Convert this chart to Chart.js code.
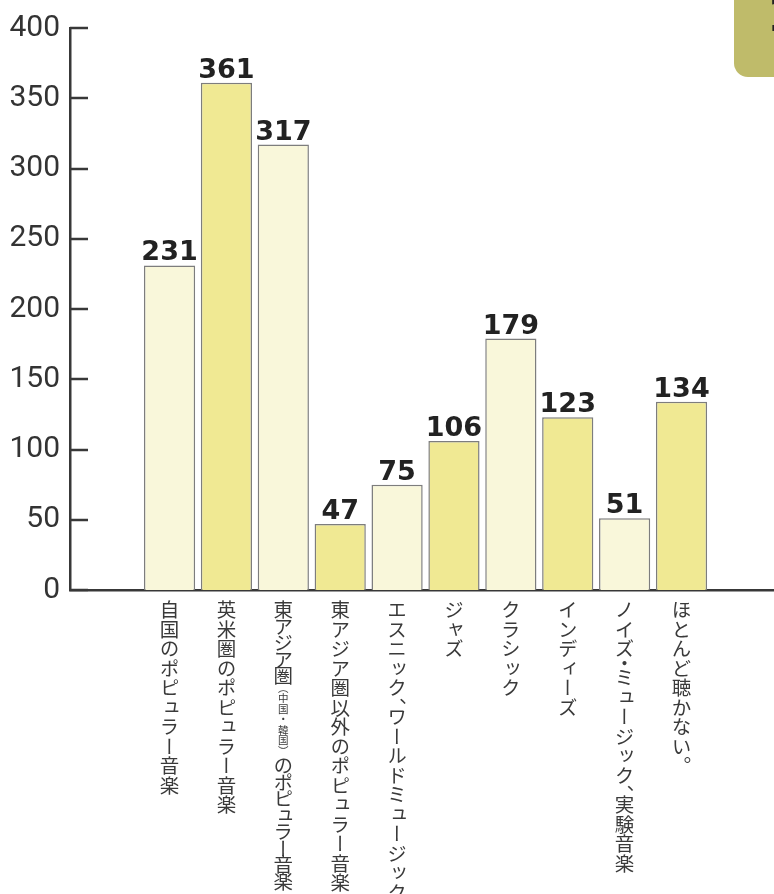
<!DOCTYPE html>
<html>
<head>
<meta charset="utf-8">
<script src="https://cdn.jsdelivr.net/npm/chart.js@4.4.1/dist/chart.umd.min.js"></script>
<style>
  html, body { margin: 0; padding: 0; background: #fff; }
  #wrap { position: relative; width: 774px; height: 894px; overflow: hidden; }
  #chart { position: absolute; left: 0; top: 0; }
  .cat {
    position: absolute;
    writing-mode: vertical-rl;
    font-family: "Noto Sans CJK JP", sans-serif;
    font-size: 19.5px;
    line-height: 1;
    color: #3a3a3a;
    white-space: nowrap;
  }
  .cat small { font-size: 10.5px; letter-spacing: 0; }
  .cat .pn { font-feature-settings: "vpal"; }
</style>
</head>
<body>
<div id="wrap">
  <canvas id="chart" width="774" height="894"></canvas>
</div>
<script>
// categories (part in brackets is printed smaller)
var categories = [
    "自国のポピュラー音楽",
    "英米圏のポピュラー音楽",
    "東アジア圏[（中国・韓国）]のポピュラー音楽",
    "東アジア圏以外のポピュラー音楽",
    "エスニック、ワールドミュージック",
    "ジャズ",
    "クラシック",
    "インディーズ",
    "ノイズ・ミュージック、実験音楽",
    "ほとんど聴かない。"
];
var counts = [231, 361, 317, 47, 75, 106, 179, 123, 51, 134];
var yTicks = [0, 50, 100, 150, 200, 250, 300, 350, 400];

var lightBar = '#f9f7da';
var yellowBar = '#f0e993';
var axisColor = '#383838';

// little olive tab in the top right corner
var cornerTab = {
    id: 'cornerTab',
    beforeDraw: function (chart) {
        var ctx = chart.ctx;
        ctx.save();
        ctx.fillStyle = '#bfbb6a';
        ctx.beginPath();
        ctx.roundRect(734, -20, 70, 97, 14);
        ctx.fill();
        ctx.fillStyle = '#222';
        ctx.font = 'bold 46px "DejaVu Sans"';
        ctx.textBaseline = 'top';
        ctx.textAlign = 'left';
        ctx.fillText('1', 767, -4);
        ctx.restore();
    }
};

// tick marks pointing into the plot + value labels on the bars
var extras = {
    id: 'extras',
    afterDraw: function (chart) {
        var ctx = chart.ctx;
        var y = chart.scales.y;
        var left = chart.chartArea.left;
        ctx.save();
        ctx.strokeStyle = axisColor;
        ctx.lineWidth = 2.5;
        y.ticks.forEach(function (t) {
            var py = Math.round(y.getPixelForValue(t.value));
            ctx.beginPath();
            ctx.moveTo(left, py);
            ctx.lineTo(left + 18, py);
            ctx.stroke();
        });

        ctx.fillStyle = '#222';
        ctx.font = 'bold 27px "DejaVu Sans"';
        ctx.textAlign = 'center';
        ctx.textBaseline = 'alphabetic';
        chart.getDatasetMeta(0).data.forEach(function (bar, i) {
            ctx.fillText(String(counts[i]), bar.x, bar.y - 5);
        });
        ctx.restore();
    }
};

// wrap the punctuation so it can use tighter vertical metrics
function addText(el, text) {
    text.split(/([、。・])/).forEach(function (part) {
        if (!part) return;
        if (/^[、。・]$/.test(part)) {
            var p = document.createElement('span');
            p.className = 'pn';
            p.textContent = part;
            el.appendChild(p);
        } else {
            el.appendChild(document.createTextNode(part));
        }
    });
}

// vertical japanese labels, placed from the x scale
var vLabels = {
    id: 'vLabels',
    afterRender: function (chart) {
        var wrap = document.getElementById('wrap');
        wrap.querySelectorAll('.cat').forEach(function (el) { el.remove(); });
        var x = chart.scales.x;
        categories.forEach(function (name, i) {
            var el = document.createElement('div');
            el.className = 'cat';
            var m = name.match(/^(.*)\[(.*)\](.*)$/);
            if (m) {
                // this one is squeezed in the original
                var a = document.createElement('span');
                a.style.letterSpacing = '-3px';
                a.textContent = m[1];
                var s = document.createElement('small');
                s.textContent = m[2];
                var b = document.createElement('span');
                b.style.letterSpacing = '-3px';
                b.textContent = m[3];
                el.appendChild(a);
                el.appendChild(s);
                el.appendChild(b);
            } else {
                addText(el, name);
            }
            wrap.appendChild(el);
            el.style.left = (x.getPixelForValue(i) - el.offsetWidth / 2) + 'px';
            el.style.top = (chart.chartArea.bottom + 10) + 'px';
        });
    }
};

var ctx = document.getElementById('chart').getContext('2d');
var chart = new Chart(ctx, {
    type: 'bar',
    data: {
        datasets: [{
            data: counts.map(function (v, i) { return { x: i, y: v }; }),
            backgroundColor: function (c) { return c.dataIndex % 2 ? yellowBar : lightBar; },
            borderColor: '#7d7d7d',
            borderWidth: 1.5,
            barPercentage: 0.9,
            categoryPercentage: 1.0
        }]
    },
    options: {
        responsive: false,
        animation: false,
        layout: { padding: { top: 24, right: 0, left: 0, bottom: 0 } },
        plugins: {
            legend: { display: false },
            tooltip: { enabled: false }
        },
        scales: {
            x: {
                type: 'linear',
                offset: false,
                min: -1.75,
                max: 10.626,
                grid: { display: false, offset: false },
                border: { display: true, color: axisColor, width: 2.5 },
                ticks: { display: false },
                afterFit: function (s) { s.height = 304; }
            },
            y: {
                min: 0,
                max: 400,
                afterBuildTicks: function (s) {
                    s.ticks = yTicks.map(function (v) { return { value: v }; });
                },
                grid: { display: false, drawTicks: false },
                border: { display: true, color: axisColor, width: 2.5 },
                ticks: {
                    padding: 10,
                    color: '#333',
                    font: { family: 'Roboto', size: 30, weight: 400 }
                },
                afterFit: function (s) { s.width = 70; }
            }
        }
    },
    plugins: [cornerTab, extras, vLabels]
});
</script>
</body>
</html>
